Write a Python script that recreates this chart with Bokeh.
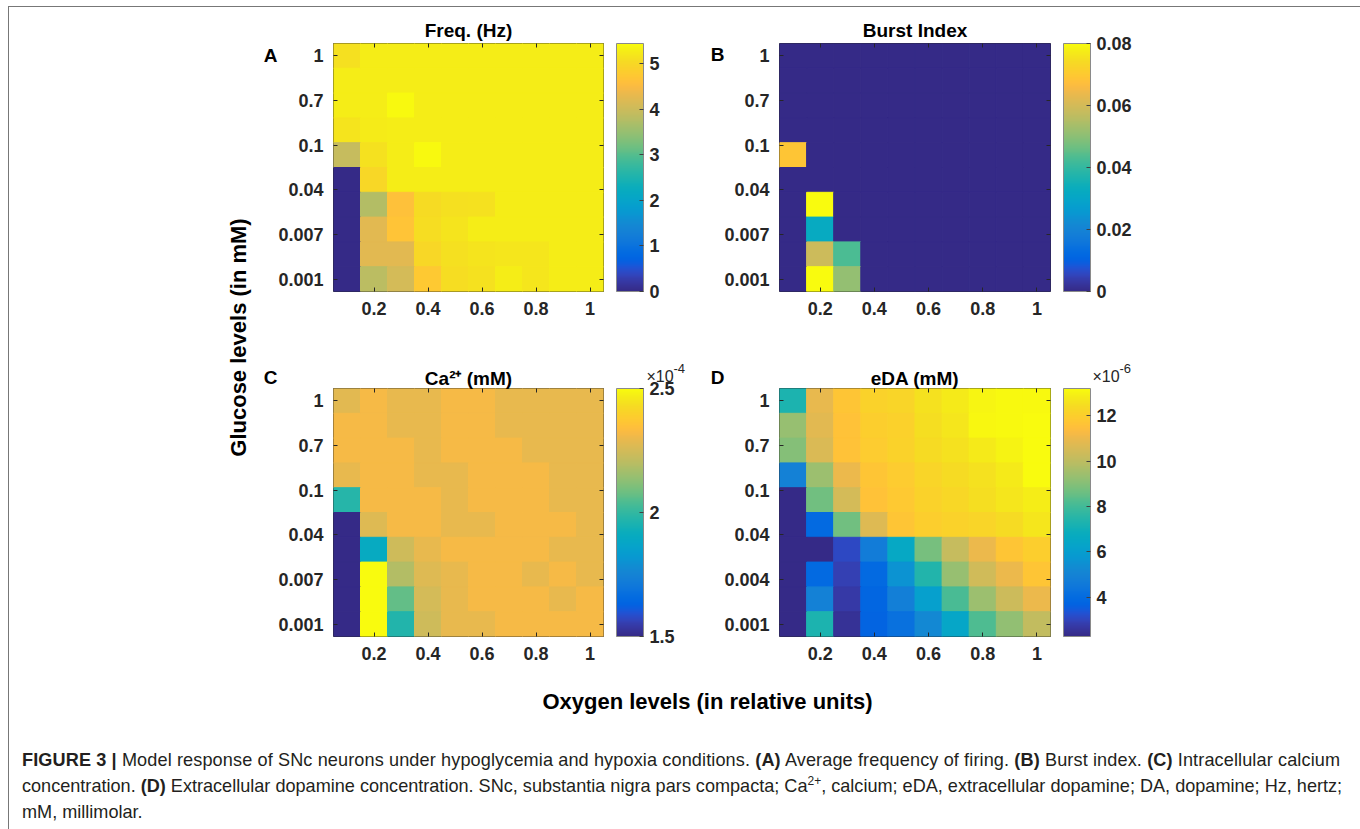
import numpy as np
from bokeh.plotting import figure
from bokeh.models import (ColumnDataSource, LinearColorMapper, ColorBar, FixedTicker,
                          LinearAxis, Label, Range1d, Div, Spacer)
from bokeh.layouts import row, column
from bokeh.transform import transform
from bokeh.embed import file_html
from bokeh.resources import INLINE

# ---------------- data ----------------
oxygen_levels = [0.1, 0.2, 0.3, 0.4, 0.5, 0.6, 0.7, 0.8, 0.9, 1.0]
glucose_rows = [1, 2, 3, 4, 5, 6, 7, 8, 9, 10]          # 1 = lowest glucose (bottom row)
glucose_tick_pos = [1, 2.8, 4.6, 6.4, 8.2, 10]
glucose_labels_abc = ["0.001", "0.007", "0.04", "0.1", "0.7", "1"]
glucose_labels_d = ["0.001", "0.004", "0.04", "0.1", "0.7", "1"]
oxygen_ticks = [0.2, 0.4, 0.6, 0.8, 1.0]
oxygen_tick_labels = ["0.2", "0.4", "0.6", "0.8", "1"]

# rows listed from top (glucose 1 mM) to bottom (glucose 0.001 mM)
freq_hz = [
    [5.12, 5.28, 5.28, 5.28, 5.28, 5.28, 5.28, 5.28, 5.28, 5.28],
    [5.28, 5.28, 5.28, 5.28, 5.28, 5.28, 5.28, 5.28, 5.28, 5.28],
    [5.28, 5.28, 5.42, 5.28, 5.28, 5.28, 5.28, 5.28, 5.28, 5.28],
    [5.18, 5.26, 5.28, 5.28, 5.28, 5.28, 5.28, 5.28, 5.28, 5.28],
    [3.95, 5.15, 5.28, 5.42, 5.28, 5.28, 5.28, 5.28, 5.28, 5.28],
    [0.00, 5.00, 5.28, 5.28, 5.28, 5.28, 5.28, 5.28, 5.28, 5.28],
    [0.00, 3.75, 4.62, 5.05, 5.12, 5.14, 5.28, 5.28, 5.28, 5.28],
    [0.00, 4.25, 4.68, 5.08, 5.18, 5.28, 5.28, 5.28, 5.28, 5.28],
    [0.00, 4.25, 4.25, 5.00, 5.12, 5.18, 5.20, 5.20, 5.28, 5.28],
    [0.00, 3.85, 4.10, 4.75, 5.08, 5.14, 5.30, 5.20, 5.28, 5.28],
]
burst_index = [
    [0, 0, 0, 0, 0, 0, 0, 0, 0, 0],
    [0, 0, 0, 0, 0, 0, 0, 0, 0, 0],
    [0, 0, 0, 0, 0, 0, 0, 0, 0, 0],
    [0, 0, 0, 0, 0, 0, 0, 0, 0, 0],
    [0.069, 0, 0, 0, 0, 0, 0, 0, 0, 0],
    [0, 0, 0, 0, 0, 0, 0, 0, 0, 0],
    [0, 0.080, 0, 0, 0, 0, 0, 0, 0, 0],
    [0, 0.032, 0, 0, 0, 0, 0, 0, 0, 0],
    [0, 0.059, 0.043, 0, 0, 0, 0, 0, 0, 0],
    [0, 0.080, 0.051, 0, 0, 0, 0, 0, 0, 0],
]
calcium_e4 = [   # x 1e-4 mM
    [2.28, 2.32, 2.29, 2.29, 2.32, 2.32, 2.29, 2.29, 2.29, 2.29],
    [2.32, 2.32, 2.29, 2.29, 2.32, 2.32, 2.29, 2.29, 2.29, 2.29],
    [2.32, 2.32, 2.32, 2.29, 2.32, 2.32, 2.32, 2.29, 2.29, 2.29],
    [2.29, 2.32, 2.32, 2.29, 2.29, 2.32, 2.32, 2.32, 2.29, 2.29],
    [1.98, 2.32, 2.32, 2.32, 2.29, 2.32, 2.32, 2.32, 2.29, 2.29],
    [1.50, 2.27, 2.32, 2.32, 2.29, 2.29, 2.32, 2.32, 2.32, 2.29],
    [1.50, 1.90, 2.24, 2.29, 2.32, 2.32, 2.32, 2.32, 2.29, 2.29],
    [1.50, 2.50, 2.19, 2.27, 2.29, 2.32, 2.32, 2.29, 2.32, 2.29],
    [1.50, 2.50, 2.07, 2.25, 2.29, 2.32, 2.32, 2.32, 2.29, 2.32],
    [1.50, 2.50, 1.97, 2.24, 2.29, 2.29, 2.32, 2.32, 2.32, 2.32],
]
eda_e6 = [       # x 1e-6 mM
    [7.3, 10.9, 11.7, 12.1, 12.2, 12.6, 12.8, 13.05, 13.15, 13.15],
    [9.3, 10.8, 11.6, 12.0, 12.05, 12.5, 12.7, 13.1, 13.15, 13.2],
    [9.0, 10.6, 11.6, 11.9, 12.1, 12.4, 12.6, 12.8, 13.0, 13.2],
    [4.9, 9.4, 11.0, 11.7, 11.9, 12.2, 12.4, 12.6, 12.8, 13.2],
    [2.27, 8.7, 10.5, 11.6, 11.8, 12.1, 12.3, 12.5, 12.7, 12.9],
    [2.27, 3.9, 8.7, 10.7, 11.7, 12.0, 12.1, 12.2, 12.4, 12.7],
    [2.27, 2.3, 3.1, 4.7, 6.5, 8.8, 10.2, 11.0, 11.7, 12.0],
    [2.27, 3.9, 2.9, 3.9, 5.6, 7.4, 9.3, 10.4, 11.0, 11.7],
    [2.27, 4.9, 2.7, 3.8, 4.8, 6.1, 8.1, 9.4, 10.3, 11.0],
    [2.27, 7.3, 2.5, 3.7, 4.2, 5.2, 6.4, 8.2, 9.2, 10.1],
]

freq_ticks = [0, 1, 2, 3, 4, 5]
freq_tick_labels = ["0", "1", "2", "3", "4", "5"]
burst_ticks = [0, 0.02, 0.04, 0.06, 0.08]
burst_tick_labels = ["0", "0.02", "0.04", "0.06", "0.08"]
calcium_ticks = [1.5, 2, 2.5]
calcium_tick_labels = ["1.5", "2", "2.5"]
eda_ticks = [4, 6, 8, 10, 12]
eda_tick_labels = ["4", "6", "8", "10", "12"]

# ---------------- style ----------------
FONT = "Liberation Sans"
DARK = "#262626"
PARULA64 = [
    (0.2081, 0.1663, 0.5292), (0.2116, 0.1898, 0.5777), (0.2123, 0.2138, 0.6270), (0.2081, 0.2386, 0.6771),
    (0.1959, 0.2645, 0.7279), (0.1707, 0.2919, 0.7792), (0.1253, 0.3242, 0.8303), (0.0591, 0.3598, 0.8683),
    (0.0117, 0.3875, 0.8820), (0.0060, 0.4086, 0.8828), (0.0165, 0.4266, 0.8786), (0.0329, 0.4430, 0.8720),
    (0.0498, 0.4586, 0.8641), (0.0629, 0.4737, 0.8554), (0.0723, 0.4887, 0.8467), (0.0779, 0.5040, 0.8384),
    (0.0793, 0.5200, 0.8312), (0.0749, 0.5375, 0.8263), (0.0641, 0.5570, 0.8240), (0.0488, 0.5772, 0.8228),
    (0.0343, 0.5966, 0.8199), (0.0265, 0.6137, 0.8135), (0.0239, 0.6287, 0.8038), (0.0231, 0.6418, 0.7913),
    (0.0228, 0.6535, 0.7768), (0.0267, 0.6642, 0.7607), (0.0384, 0.6743, 0.7436), (0.0590, 0.6838, 0.7254),
    (0.0843, 0.6928, 0.7062), (0.1133, 0.7015, 0.6859), (0.1453, 0.7098, 0.6646), (0.1801, 0.7177, 0.6424),
    (0.2178, 0.7250, 0.6193), (0.2586, 0.7317, 0.5954), (0.3022, 0.7376, 0.5712), (0.3482, 0.7424, 0.5473),
    (0.3953, 0.7459, 0.5244), (0.4420, 0.7481, 0.5033), (0.4871, 0.7491, 0.4840), (0.5300, 0.7491, 0.4661),
    (0.5709, 0.7485, 0.4494), (0.6099, 0.7473, 0.4337), (0.6473, 0.7456, 0.4188), (0.6834, 0.7435, 0.4044),
    (0.7184, 0.7411, 0.3905), (0.7525, 0.7384, 0.3768), (0.7858, 0.7356, 0.3633), (0.8185, 0.7327, 0.3498),
    (0.8507, 0.7299, 0.3360), (0.8824, 0.7274, 0.3217), (0.9139, 0.7258, 0.3063), (0.9450, 0.7261, 0.2886),
    (0.9739, 0.7314, 0.2666), (0.9938, 0.7455, 0.2403), (0.9990, 0.7653, 0.2164), (0.9955, 0.7861, 0.1967),
    (0.9880, 0.8066, 0.1794), (0.9789, 0.8271, 0.1633), (0.9697, 0.8481, 0.1475), (0.9626, 0.8705, 0.1309),
    (0.9589, 0.8949, 0.1132), (0.9598, 0.9218, 0.0948), (0.9661, 0.9514, 0.0755), (0.9763, 0.9831, 0.0538),
]
_anch = np.array(PARULA64)
_t = np.linspace(0, 1, len(_anch))
_tt = np.linspace(0, 1, 256)
PARULA = ['#%02x%02x%02x' % tuple(int(round(255 * np.interp(v, _t, _anch[:, k]))) for k in range(3)) for v in _tt]


def style_axis(ax, labels_visible=True, standoff=10):
    ax.axis_line_color = None
    ax.major_tick_in = 4
    ax.major_tick_out = 0
    ax.minor_tick_line_color = None
    ax.major_tick_line_color = DARK
    ax.major_label_text_font = FONT
    ax.major_label_text_font_style = "bold"
    ax.major_label_text_color = DARK
    if labels_visible:
        ax.major_label_text_font_size = "18px"
    else:
        ax.major_label_text_font_size = "1px"
    ax.major_label_standoff = standoff


def make_panel(values, low, high, cticks, clabels, ylabels, title, width, height,
               bl, br, bt, bb, title_standoff):
    p = figure(width=width, height=height, x_range=Range1d(0.05, 1.05), y_range=Range1d(0.5, 10.5),
               toolbar_location=None, output_backend="svg", title=title,
               min_border_left=bl, min_border_right=br, min_border_top=bt, min_border_bottom=bb)
    xs, ys, vs = [], [], []
    n = len(values)
    for i, rv in enumerate(values):
        gy = glucose_rows[n - 1 - i]
        for j, v in enumerate(rv):
            xs.append(oxygen_levels[j]); ys.append(gy); vs.append(v)
    src = ColumnDataSource(dict(x=xs, y=ys, v=vs))
    mapper = LinearColorMapper(palette=PARULA, low=low, high=high)
    p.rect('x', 'y', width=0.1, height=1, source=src, fill_color=transform('v', mapper),
           line_color=transform('v', mapper), line_width=1)
    p.grid.visible = False
    p.outline_line_color = DARK
    p.outline_line_width = 1
    p.background_fill_color = "white"
    p.border_fill_color = "white"

    p.xaxis.ticker = FixedTicker(ticks=oxygen_ticks)
    p.xaxis.major_label_overrides = dict(zip(oxygen_ticks, oxygen_tick_labels))
    p.yaxis.ticker = FixedTicker(ticks=glucose_tick_pos)
    p.yaxis.major_label_overrides = dict(zip(glucose_tick_pos, ylabels))
    style_axis(p.xaxis[0]); style_axis(p.yaxis[0])

    top = LinearAxis(ticker=FixedTicker(ticks=oxygen_ticks),
                     major_label_overrides={t: "" for t in oxygen_ticks})
    style_axis(top, False, 0)
    p.add_layout(top, "above")

    # inward ticks on the right edge of the box
    right = LinearAxis(ticker=FixedTicker(ticks=glucose_tick_pos),
                       major_label_overrides={t: "" for t in glucose_tick_pos})
    style_axis(right, False, 0)
    right.minor_tick_out = 0
    right.minor_tick_in = 0
    p.add_layout(right, "right")
    # invisible spacer axis: gap between the box and the colour bar
    gap = LinearAxis(ticker=FixedTicker(ticks=glucose_tick_pos),
                     major_label_overrides={t: "" for t in glucose_tick_pos})
    style_axis(gap, False, 0)
    gap.major_tick_in = 0
    gap.major_tick_out = 13
    gap.minor_tick_out = 0
    gap.minor_tick_in = 0
    gap.major_tick_line_color = None
    p.add_layout(gap, "right")

    cb = ColorBar(color_mapper=mapper, ticker=FixedTicker(ticks=cticks),
                  major_label_overrides=dict(zip(cticks, clabels)),
                  width=27, padding=0, margin=0, label_standoff=6,
                  major_tick_in=4, major_tick_out=0, major_tick_line_color="#404040",
                  minor_tick_line_color=None, bar_line_color="#8a8a8a",
                  border_line_color=None, background_fill_color=None,
                  major_label_text_font=FONT, major_label_text_font_size="18px",
                  major_label_text_font_style="bold", major_label_text_color=DARK)
    p.add_layout(cb, "right")

    p.title.text_font = FONT
    p.title.text_font_size = "19px"
    p.title.text_font_style = "bold"
    p.title.text_color = "black"
    p.title.align = "center"
    p.title.standoff = title_standoff
    return p


pA = make_panel(freq_hz, 0, 5.45, freq_ticks, freq_tick_labels, glucose_labels_abc, "Freq. (Hz)",
                434, 338, 83, 81, 36, 54, 6)
pB = make_panel(burst_index, 0, 0.08, burst_ticks, burst_tick_labels, glucose_labels_abc, "Burst Index",
                671, 338, 95, 305, 36, 54, 6)
pC = make_panel(calcium_e4, 1.5, 2.5, calcium_ticks, calcium_tick_labels, glucose_labels_abc, "Ca\u00b2\u207a (mM)",
                434, 327, 83, 81, 43, 36, 0)
pD = make_panel(eda_e6, 2.27, 13.2, eda_ticks, eda_tick_labels, glucose_labels_d, "eDA (mM)",
                671, 327, 95, 305, 43, 36, 0)

# ---------------- text overlay (pixel coordinates inside the framed area) ----------------
OW, OH = 1346, 822
ov = figure(width=OW, height=OH, x_range=Range1d(0, OW), y_range=Range1d(0, OH),
            toolbar_location=None, output_backend="svg", min_border=0,
            x_axis_location=None, y_axis_location=None, title=None,
            styles={"position": "absolute", "left": "0px", "top": "0px",
                    "z-index": "10", "pointer-events": "none"})
ov.outline_line_color = None
ov.grid.visible = False
ov.background_fill_alpha = 0
ov.border_fill_alpha = 0


def put(text, X, Y, size, bold=True, angle=0.0, align="center", color="black"):
    ov.add_layout(Label(x=X - 9, y=829 - Y, text=text, angle=angle, text_font=FONT,
                        text_font_size=size, text_font_style="bold" if bold else "normal",
                        text_color=color, text_align=align, text_baseline="middle"))


put("Glucose levels (in mM)", 238, 337, "22px", angle=np.pi / 2)
put("Oxygen levels (in relative units)", 707, 701, "22px")
put("A", 270, 55, "19px")
put("B", 717, 54, "19px")
put("C", 270, 377, "19px")
put("D", 717, 377, "19px")
put("\u00d710", 646, 376, "16px", bold=False, align="left", color=DARK)
put("-4", 673, 368, "13px", bold=False, align="left", color=DARK)
put("\u00d710", 1092, 376, "16px", bold=False, align="left", color=DARK)
put("-6", 1119, 368, "13px", bold=False, align="left", color=DARK)

caption_html = (
    '<div style="font-family:\'Liberation Sans\',Arial,sans-serif;font-size:18.1px;line-height:26px;'
    'color:#231f20;white-space:nowrap;padding:17px 0 0 8px;">'
    '<span style="letter-spacing:0.12px;"><b>FIGURE 3 |</b> Model response of SNc neurons under hypoglycemia and hypoxia conditions. '
    '<b>(A)</b> Average frequency of firing. <b>(B)</b> Burst index. <b>(C)</b> Intracellular calcium</span><br>'
    'concentration. <b>(D)</b> Extracellular dopamine concentration. SNc, substantia nigra pars compacta; '
    'Ca<sup style="font-size:12px;line-height:0;">2+</sup>, calcium; eDA, extracellular dopamine; DA, dopamine; Hz, hertz;<br>'
    'mM, millimolar.</div>'
)
cap = Div(text=caption_html, width=1346, height=104)

panels = column(row(pA, pB), row(pC, pD))
layout = column(row(Spacer(width=241, height=665), panels), Spacer(width=1346, height=53), cap, ov,
                styles={"position": "absolute", "left": "8px", "top": "6px",
                        "border-top": "1px solid #777", "border-left": "1px solid #777",
                        "border-right": "1px solid #777"})

open("out.html", "w").write(file_html(layout, INLINE))
